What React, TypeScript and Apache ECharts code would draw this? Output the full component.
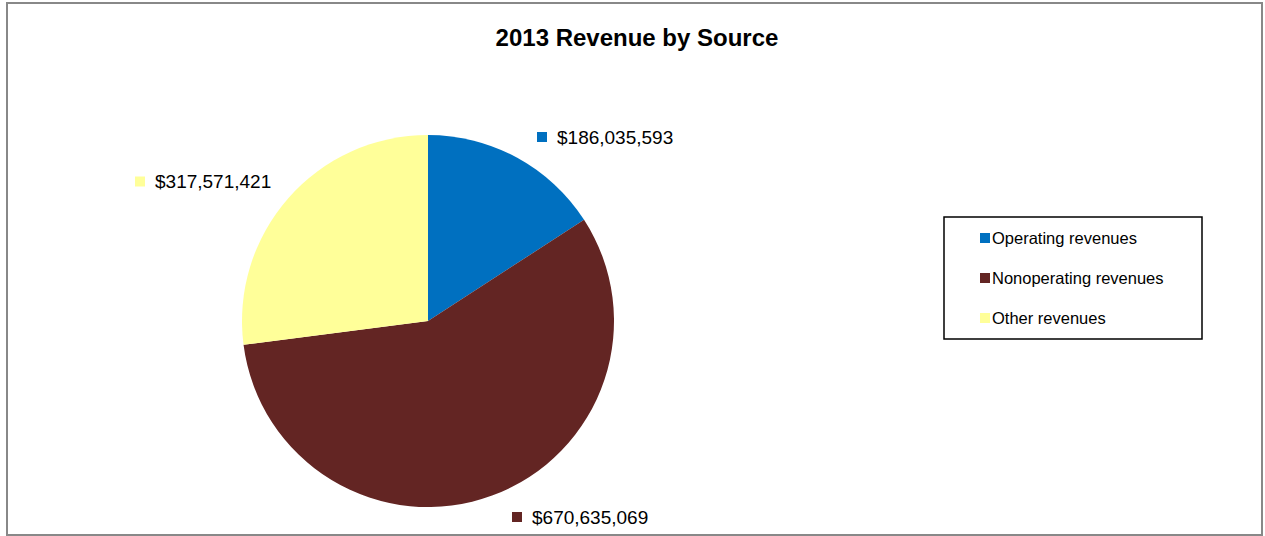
import React, { useEffect, useRef } from "react";
import * as echarts from "echarts";

const categories = ["Operating revenues", "Nonoperating revenues", "Other revenues"];
const values = [186035593, 670635069, 317571421];
const colors = ["#0070C0", "#632523", "#FFFF99"];
const labelPos: [number, number][] = [
  [537, 137],
  [512, 517],
  [135, 181.5],
];

export default function App() {
  const ref = useRef<HTMLDivElement>(null);
  useEffect(() => {
    if (!ref.current) return;
    const chart = echarts.init(ref.current, undefined, { renderer: "svg" });
    const font = "Liberation Sans, Arial, sans-serif";
    chart.setOption({
      animation: false,
      backgroundColor: "#fff",
      title: {
        text: "2013 Revenue by Source",
        left: 632,
        textAlign: "center",
        top: 20,
        textStyle: { fontFamily: font, fontSize: 24, fontWeight: "bold", color: "#000" },
      },
      legend: {
        orient: "vertical",
        left: 975,
        top: 223,
        itemWidth: 10,
        itemHeight: 10,
        itemGap: 20,
        icon: "rect",
        data: categories,
        textStyle: {
          fontFamily: font,
          fontSize: 16.5,
          color: "#000",
          lineHeight: 20,
          padding: [0, 0, 0, -3],
        },
      },
      graphic: [
        {
          type: "rect",
          shape: { x: 7, y: 3, width: 1255, height: 532 },
          style: { fill: "none", stroke: "#888", lineWidth: 2 },
          z: -1,
          silent: true,
        },
        {
          type: "rect",
          shape: { x: 944, y: 217, width: 258, height: 122 },
          style: { fill: "none", stroke: "#000", lineWidth: 1.5 },
          silent: true,
        },
      ],
      series: [
        {
          type: "pie",
          center: [428, 321],
          radius: [0, 186],
          startAngle: 90,
          clockwise: true,
          labelLine: { show: false },
          data: categories.map((name, i) => ({
            name,
            value: values[i],
            itemStyle: { color: colors[i] },
            label: {
              show: true,
              formatter: (p: any) => `{m|}{t|$${Number(p.value).toLocaleString("en-US")}}`,
              rich: {
                m: { width: 10, height: 10, backgroundColor: colors[i] },
                t: { fontFamily: font, fontSize: 19, color: "#000", padding: [0, 0, 0, 10] },
              },
            },
          })),
          labelLayout: (params: any) => ({
            x: labelPos[params.dataIndex][0],
            y: labelPos[params.dataIndex][1],
            align: "left",
            verticalAlign: "middle",
          }),
        },
      ],
    });
    return () => chart.dispose();
  }, []);
  return (
    <div
      ref={ref}
      style={{ position: "absolute", left: 0, top: 0, width: 1265, height: 536 }}
    />
  );
}
